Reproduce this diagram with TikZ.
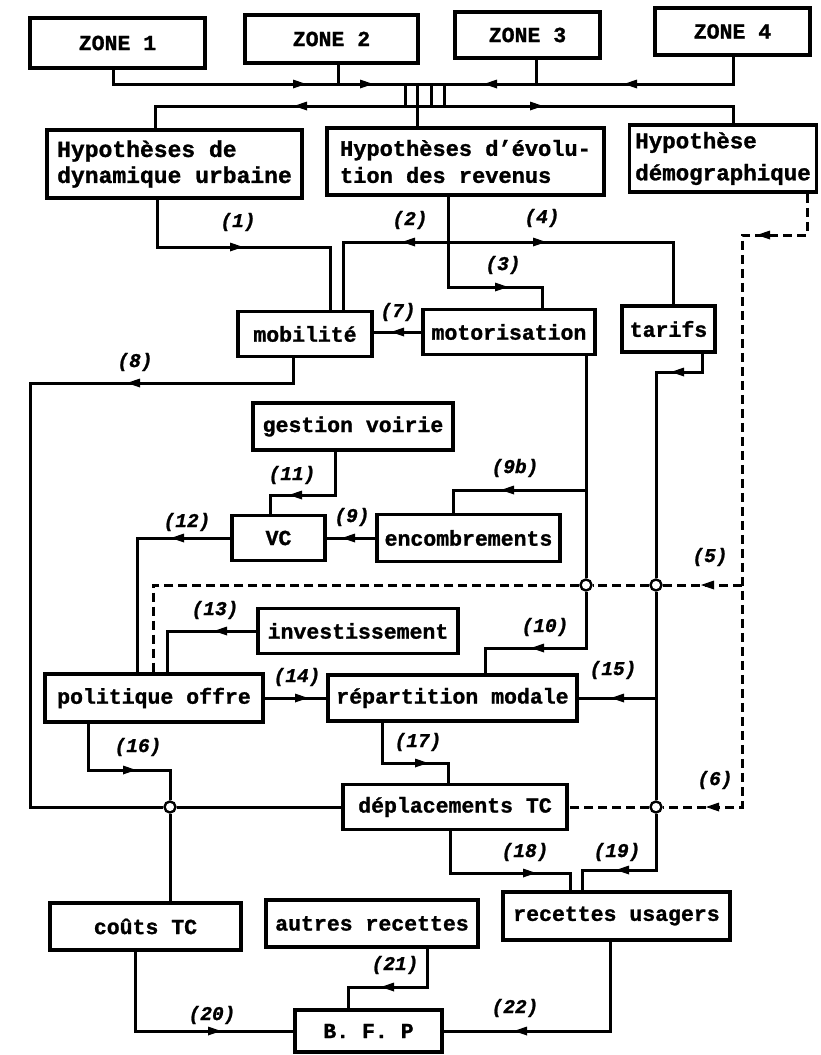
\documentclass[tikz,border=0pt]{standalone}
\usepackage{fontspec}
\setmainfont{Liberation Mono}[BoldFeatures={FakeBold=1.2}, BoldItalicFeatures={FakeBold=1.2}]
\begin{document}
\begin{tikzpicture}[x=1pt,y=-1pt,
 box/.style={draw, line width=3.8pt, inner sep=2pt, font=\fontsize{21.5}{24}\selectfont\bfseries},
 hyp/.style={box, align=left},
 ln/.style={line width=3pt},
 dsh/.style={line width=3pt, dash pattern=on 9pt off 5pt},
 lab/.style={font=\fontsize{19.5}{20}\selectfont\bfseries\itshape, inner sep=0pt},
 jn/.style={circle, draw, fill=white, line width=2.4pt, minimum size=11pt, inner sep=0pt},
 arrR/.pic={\fill (-7,-4.5) -- (6,0) -- (-7,4.5) -- cycle;},
 arrL/.pic={\fill (7,-4.5) -- (-6,0) -- (7,4.5) -- cycle;}
]
\useasboundingbox (0,0) rectangle (820,1055);

% ---- boxes
\node[box, minimum width=175, minimum height=50] (z1) at (117.5,43) {ZONE 1};
\node[box, minimum width=173, minimum height=48] (z2) at (331.5,39) {ZONE 2};
\node[box, minimum width=145, minimum height=46] (z3) at (527.5,35) {ZONE 3};
\node[box, minimum width=155, minimum height=47] (z4) at (732.5,31.5) {ZONE 4};

\node[hyp, minimum width=255, minimum height=68, font=\fontsize{23}{26}\selectfont\bfseries] (hd) at (174.5,164) {Hypothèses de\\dynamique urbaine};
\node[hyp, minimum width=277, minimum height=67, font=\fontsize{22}{27}\selectfont\bfseries] (he) at (465.5,161.5) {Hypothèses d'évolu-\\tion des revenus};
\node[hyp, minimum width=187, minimum height=67, inner sep=1pt, font=\fontsize{22.5}{32}\selectfont\bfseries] (hdemo) at (723,158.5) {Hypothèse\\démographique};

\node[box, minimum width=134, minimum height=45] (mob) at (305,334) {mobilité};
\node[box, minimum width=172, minimum height=45] (mot) at (509,332) {motorisation};
\node[box, minimum width=93, minimum height=46] (tar) at (668.5,329) {tarifs};

\node[box, minimum width=200, minimum height=47] (gv) at (353,426.5) {gestion voirie};
\node[box, minimum width=93, minimum height=45] (vc) at (278.5,538) {VC};
\node[box, minimum width=183, minimum height=47] (enc) at (468.5,538) {encombrements};
\node[box, minimum width=200, minimum height=45] (inv) at (358,631) {investissement};
\node[box, minimum width=218, minimum height=48] (po) at (154,698) {politique offre};
\node[box, minimum width=249, minimum height=46] (rep) at (452.5,698) {répartition modale};
\node[box, minimum width=224, minimum height=45] (dep) at (455,807) {déplacements TC};
\node[box, minimum width=191, minimum height=47] (ct) at (145.5,926.5) {coûts TC};
\node[box, minimum width=212, minimum height=47] (ar) at (372,923.5) {autres recettes};
\node[box, minimum width=227, minimum height=48] (ru) at (616.5,916) {recettes usagers};
\node[box, minimum width=147, minimum height=42] (bfp) at (368.5,1031) {B. F. P};

% ---- junctions
\node[jn] (jA) at (586,585) {};
\node[jn] (jB) at (656,585) {};
\node[jn] (jC) at (656,807) {};
\node[jn] (jD) at (170,807) {};

% ---- coordinates
\coordinate (ubL) at (113,84); \coordinate (ubR) at (733,84);
\coordinate (lbL) at (155,106); \coordinate (lbR) at (733,106);
\coordinate (s2) at (338,84); \coordinate (s3) at (536,84);
\coordinate (b1) at (405,84); \coordinate (b2) at (417,84);
\coordinate (b3) at (431,84); \coordinate (b4) at (444,84);
\coordinate (c1a) at (157,247); \coordinate (c1b) at (330,247);
\coordinate (c2a) at (343,242); \coordinate (c4b) at (673,242);
\coordinate (c3a) at (448,287); \coordinate (c3b) at (542,287);
\coordinate (c8a) at (293,383); \coordinate (c8b) at (30,383); \coordinate (c8c) at (30,807);
\coordinate (c11a) at (335,495); \coordinate (c11b) at (270,495);
\coordinate (m9) at (586,490); \coordinate (c9b) at (453,490);
\coordinate (m10) at (586,648); \coordinate (c10b) at (485,648);
\coordinate (t1) at (702,372); \coordinate (t2) at (656,372);
\coordinate (t15) at (656,698);
\coordinate (t19) at (656,870); \coordinate (c19b) at (582,870);
\coordinate (d1) at (807,235); \coordinate (d2) at (742,235);
\coordinate (d5) at (742,585); \coordinate (d6) at (742,807);
\coordinate (d5b) at (153,585);
\coordinate (c12) at (137,538); \coordinate (c13) at (167,631);
\coordinate (c16a) at (88,770); \coordinate (c16b) at (170,770);
\coordinate (c17a) at (382,763); \coordinate (c17b) at (448,763);
\coordinate (c18a) at (450,873); \coordinate (c18b) at (570,873);
\coordinate (c20) at (135,1031);
\coordinate (c21a) at (427,987); \coordinate (c21b) at (348,987);
\coordinate (c22) at (610,1031);

% ---- top buses
\draw[ln] (z1.south -| ubL) -- (ubL) -- (ubR) -- (z4.south -| ubR);
\draw[ln] (z2.south -| s2) -- (s2);
\draw[ln] (z3.south -| s3) -- (s3);
\draw[ln] (b1) -- (b1 |- lbL);
\draw[ln] (b2) -- (b2 |- he.north);
\draw[ln] (b3) -- (b3 |- lbL);
\draw[ln] (b4) -- (b4 |- lbL);
\draw[ln] (hd.north -| lbL) -- (lbL) -- (lbR) -- (hdemo.north -| lbR);

% ---- connectors
\draw[ln] (hd.south -| c1a) -- (c1a) -- (c1b) -- (mob.north -| c1b);
\draw[ln] (mob.north -| c2a) -- (c2a) -- (c4b) -- (tar.north -| c4b);
\draw[ln] (he.south -| c3a) -- (c3a) -- (c3b) -- (mot.north -| c3b);
\draw[ln] (mot.west) -- (mot.west -| mob.east);
\draw[ln] (mob.south -| c8a) -- (c8a) -- (c8b) -- (c8c) -- (jD);
\draw[ln] (jD) -- (dep.west);
\draw[ln] (gv.south -| c11a) -- (c11a) -- (c11b) -- (vc.north -| c11b);
\draw[ln] (enc.west) -- (vc.east);
\draw[ln] (mot.south -| jA) -- (jA);
\draw[ln] (m9) -- (c9b) -- (enc.north -| c9b);
\draw[ln] (jA) -- (m10) -- (c10b) -- (rep.north -| c10b);
\draw[ln] (tar.south -| t1) -- (t1) -- (t2) -- (jB);
\draw[ln] (jB) -- (jC);
\draw[ln] (t15) -- (rep.east);
\draw[ln] (jC) -- (t19) -- (c19b) -- (ru.north -| c19b);
\draw[ln] (vc.west) -- (c12) -- (po.north -| c12);
\draw[ln] (inv.west) -- (c13) -- (po.north -| c13);
\draw[ln] (po.east) -- (rep.west);
\draw[ln] (po.south -| c16a) -- (c16a) -- (c16b) -- (jD);
\draw[ln] (jD) -- (ct.north -| jD);
\draw[ln] (rep.south -| c17a) -- (c17a) -- (c17b) -- (dep.north -| c17b);
\draw[ln] (dep.south -| c18a) -- (c18a) -- (c18b) -- (ru.north -| c18b);
\draw[ln] (ct.south -| c20) -- (c20) -- (bfp.west);
\draw[ln] (ar.south -| c21a) -- (c21a) -- (c21b) -- (bfp.north -| c21b);
\draw[ln] (ru.south -| c22) -- (c22) -- (bfp.east);

% ---- dashed
\draw[dsh] (hdemo.south -| d1) -- (d1) -- (d2) -- (d5) -- (d6) -- (jC) -- (dep.east);
\draw[dsh] (d5) -- (jB) -- (jA) -- (d5b) -- (po.north -| d5b);

% ---- arrowheads
\pic at (300,84) {arrR}; \pic at (367,84) {arrR};
\pic at (490,84) {arrL}; \pic at (630,84) {arrL};
\pic at (300,106) {arrL}; \pic at (537,106) {arrR};
\pic at (237,247) {arrR};
\pic at (408,242) {arrL}; \pic at (540,242) {arrR};
\pic at (502,287) {arrR};
\pic at (397,332) {arrL};
\pic at (133,383) {arrL};
\pic at (677,372) {arrL};
\pic at (763,235) {arrL};
\pic at (295,495) {arrL};
\pic at (507,490) {arrL};
\pic at (348,538) {arrL};
\pic at (177,538) {arrL};
\pic at (707,585) {arrL};
\pic at (220,631) {arrL};
\pic at (537,648) {arrL};
\pic at (302,698) {arrR};
\pic at (617,698) {arrL};
\pic at (130,770) {arrR};
\pic at (422,763) {arrR};
\pic at (712,807) {arrL};
\pic at (530,873) {arrR};
\pic at (622,870) {arrL};
\pic at (215,1031) {arrR};
\pic at (387,987) {arrL};
\pic at (520,1031) {arrL};

% ---- labels
\node[lab] (l1) at (238,222) {(1)};
\node[lab] (l2) at (410,220) {(2)};
\node[lab] (l4) at (542,218) {(4)};
\node[lab] (l3) at (503,265) {(3)};
\node[lab] (l7) at (398,312) {(7)};
\node[lab] (l8) at (135,362) {(8)};
\node[lab] (l11) at (292,475) {(11)};
\node[lab] (l9) at (352,517) {(9)};
\node[lab] (l9b) at (515,468) {(9b)};
\node[lab] (l12) at (187,522) {(12)};
\node[lab] (l5) at (710,557) {(5)};
\node[lab] (l13) at (215,610) {(13)};
\node[lab] (l10) at (545,627) {(10)};
\node[lab] (l14) at (297,677) {(14)};
\node[lab] (l15) at (613,670) {(15)};
\node[lab] (l16) at (138,747) {(16)};
\node[lab] (l17) at (418,742) {(17)};
\node[lab] (l6) at (715,780) {(6)};
\node[lab] (l18) at (525,852) {(18)};
\node[lab] (l19) at (617,852) {(19)};
\node[lab] (l21) at (395,965) {(21)};
\node[lab] (l20) at (212,1015) {(20)};
\node[lab] (l22) at (515,1008) {(22)};
\end{tikzpicture}
\end{document}
